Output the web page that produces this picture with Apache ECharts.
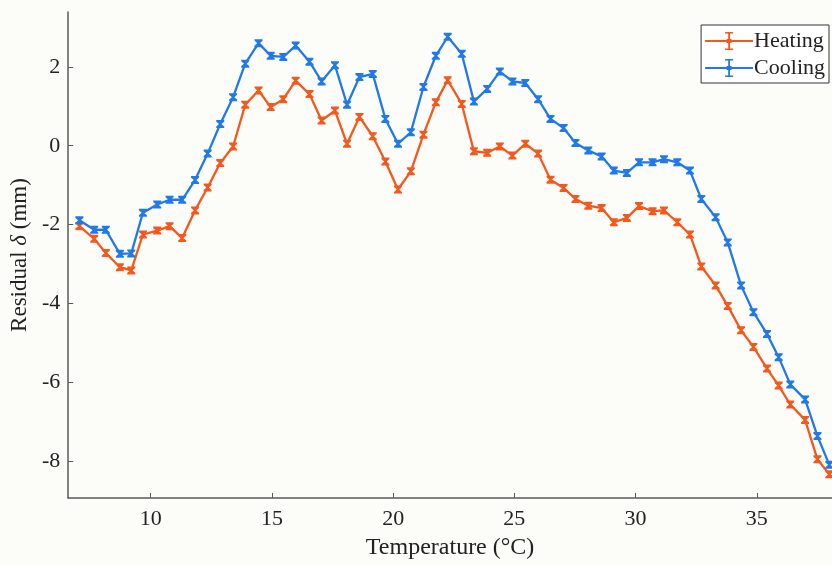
<!DOCTYPE html>
<html>
<head>
<meta charset="utf-8">
<script src="https://cdn.jsdelivr.net/npm/echarts@6/dist/echarts.min.js"></script>
<style>
  html, body { margin: 0; padding: 0; background: #fcfcf8; }
  #chart { width: 832px; height: 565px; }
</style>
</head>
<body>
<div id="chart"></div>
<script>
// temperature (°C) of each measurement
const temps = [
  7.06, 7.67, 8.15, 8.73, 9.20, 9.68, 10.27, 10.78, 11.30, 11.83,
  12.35, 12.87, 13.40, 13.90, 14.45, 14.95, 15.47, 15.98, 16.55, 17.05,
  17.60, 18.10, 18.61, 19.16, 19.68, 20.20, 20.73, 21.25, 21.76, 22.25,
  22.83, 23.33, 23.88, 24.40, 24.92, 25.45, 25.98, 26.49, 27.03, 27.52,
  28.05, 28.60, 29.10, 29.64, 30.14, 30.70, 31.17, 31.72, 32.24, 32.71,
  33.30, 33.80, 34.35, 34.86, 35.42, 35.90, 36.38, 36.99, 37.50, 37.99
];

const heating = [
  -2.04, -2.36, -2.72, -3.08, -3.16, -2.25, -2.15, -2.04, -2.34, -1.64,
  -1.06, -0.44, -0.02, 1.04, 1.40, 0.98, 1.18, 1.65, 1.31, 0.64,
  0.89, 0.05, 0.73, 0.24, -0.40, -1.11, -0.65, 0.28, 1.10, 1.66,
  1.06, -0.14, -0.18, -0.02, -0.25, 0.05, -0.20, -0.86, -1.07, -1.35,
  -1.52, -1.58, -1.94, -1.83, -1.53, -1.66, -1.64, -1.94, -2.25, -3.06,
  -3.54, -4.06, -4.68, -5.10, -5.65, -6.08, -6.56, -6.95, -7.95, -8.33
];

const cooling = [
  -1.89, -2.13, -2.13, -2.74, -2.73, -1.70, -1.49, -1.37, -1.37, -0.87,
  -0.20, 0.55, 1.23, 2.08, 2.60, 2.28, 2.25, 2.54, 2.13, 1.63,
  2.04, 1.04, 1.74, 1.82, 0.68, 0.05, 0.34, 1.49, 2.28, 2.76,
  2.33, 1.12, 1.44, 1.88, 1.63, 1.59, 1.18, 0.68, 0.45, 0.07,
  -0.12, -0.27, -0.63, -0.69, -0.42, -0.42, -0.34, -0.42, -0.63, -1.35,
  -1.81, -2.45, -3.54, -4.22, -4.77, -5.36, -6.05, -6.43, -7.36, -8.09
];

const xTicks = [10, 15, 20, 25, 30, 35];
const yTicks = [-8, -6, -4, -2, 0, 2];

const FONT = "Liberation Serif";
const AXIS_COLOR = "#5a5a5a";

// small error-bar glyph on every point, and the matching legend icon
const errSymbol = "path://M0,0L10,0L10,2L6.4,5L10,8L10,10L0,10L0,8L3.6,5L0,2Z";
const legendIcon = "path://M0,9.1H48V10.9H0Z M23.1,1H24.9V19H23.1Z M20,1H28V2.5H20Z M20,17.5H28V19H20Z M21.5,8H26.5V12H21.5Z";

const chart = echarts.init(document.getElementById("chart"), null, { renderer: "canvas" });

const mkSeries = (name, values, color) => ({
  name,
  type: "line",
  data: temps.map((t, i) => [t, values[i]]),
  symbol: errSymbol,
  symbolSize: [8, 8],
  showSymbol: true,
  clip: false,
  color,
  lineStyle: { width: 2.3, color },
  itemStyle: { color },
});

chart.setOption({
  animation: false,
  backgroundColor: "#fcfcf8",
  grid: { left: 65, right: 0, top: 12, bottom: 66 },
  legend: {
    orient: "vertical",
    right: 3,
    top: 25,
    itemWidth: 48,
    itemHeight: 20,
    itemGap: 5,
    padding: [5, 4, 4, 4],
    borderColor: "#333",
    borderWidth: 1,
    backgroundColor: "#ffffff",
    textStyle: { fontFamily: FONT, fontSize: 22, color: "#222", padding: [0, 0, 0, -4] },
    data: [
      { name: "Heating", icon: legendIcon },
      { name: "Cooling", icon: legendIcon },
    ],
  },
  xAxis: {
    type: "value",
    min: 6.6,
    max: 38.1,
    name: "Temperature (°C)",
    nameLocation: "middle",
    nameGap: 38,
    nameTextStyle: { fontFamily: FONT, fontSize: 24, color: "#222" },
    axisLine: { show: true, onZero: false, lineStyle: { color: AXIS_COLOR, width: 1.5 } },
    axisTick: { show: true, inside: true, length: 5, customValues: xTicks, lineStyle: { color: AXIS_COLOR } },
    axisLabel: { customValues: xTicks, fontFamily: FONT, fontSize: 22, color: "#222", margin: 10 },
    splitLine: { show: false },
  },
  yAxis: {
    type: "value",
    min: -8.93,
    max: 3.39,
    name: "{a|Residual }{b|δ}{a| (mm)}",
    nameLocation: "middle",
    nameGap: 34,
    nameRotate: 90,
    nameTextStyle: {
      rich: {
        a: { fontFamily: FONT, fontSize: 23, color: "#222" },
        b: { fontFamily: FONT, fontSize: 23, fontStyle: "italic", color: "#222" },
      },
    },
    axisLine: { show: true, onZero: false, lineStyle: { color: AXIS_COLOR, width: 1.5 } },
    axisTick: { show: true, inside: true, length: 5, customValues: yTicks, lineStyle: { color: AXIS_COLOR } },
    axisLabel: { customValues: yTicks, fontFamily: FONT, fontSize: 22, color: "#222", margin: 8 },
    splitLine: { show: false },
  },
  series: [
    mkSeries("Heating", heating, "#f3581c"),
    mkSeries("Cooling", cooling, "#2079e8"),
  ],
});
</script>
</body>
</html>
